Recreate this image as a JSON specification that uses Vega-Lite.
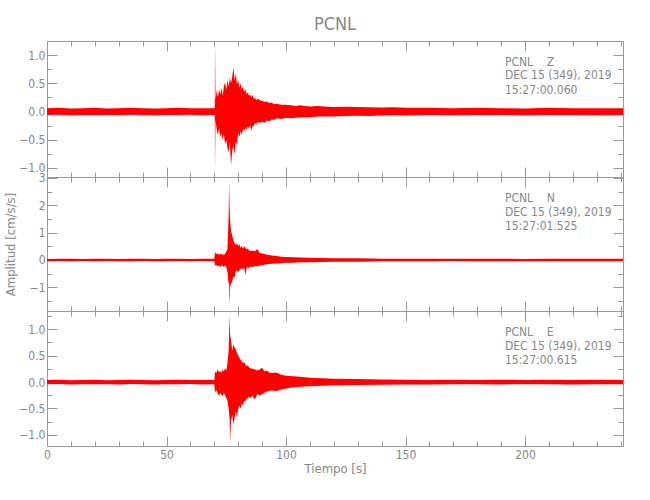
{
  "$schema": "https://vega.github.io/schema/vega-lite/v6.json",
  "padding": {"left": 4, "top": 15, "right": 5, "bottom": 5},
  "spacing": 0,
  "bounds": "flush",
  "background": "white",
  "config": {
    "view": {"stroke": null},
    "font": "Liberation Sans Narrow, DejaVu Sans Condensed, sans-serif",
    "axis": {
      "domainColor": "#999999",
      "tickColor": "#999999",
      "labelColor": "#888888",
      "titleColor": "#888888",
      "labelFont": "Liberation Sans Narrow, DejaVu Sans Condensed, sans-serif",
      "titleFont": "Liberation Sans Narrow, DejaVu Sans Condensed, sans-serif",
      "labelFontSize": 12,
      "titleFontSize": 13,
      "titleFontWeight": "normal",
      "grid": false,
      "labelFlush": false,
      "labelOverlap": false
    }
  },
  "datasets": {
    "Z": [
      {"t":0,"hi":0.06,"lo":-0.06},{"t":5,"hi":0.065,"lo":-0.055},{"t":10,"hi":0.055,"lo":-0.065},{"t":15,"hi":0.06,"lo":-0.06},{"t":20,"hi":0.065,"lo":-0.06},{"t":25,"hi":0.055,"lo":-0.06},{"t":30,"hi":0.06,"lo":-0.065},{"t":35,"hi":0.065,"lo":-0.055},{"t":40,"hi":0.06,"lo":-0.06},{"t":45,"hi":0.055,"lo":-0.065},{"t":50,"hi":0.06,"lo":-0.06},{"t":55,"hi":0.065,"lo":-0.06},{"t":60,"hi":0.06,"lo":-0.055},{"t":65,"hi":0.06,"lo":-0.065},{"t":70,"hi":0.06,"lo":-0.06},
      {"t":70.2,"hi":0.1,"lo":-0.1},{"t":70.3,"hi":1.25,"lo":-1.06},{"t":70.5,"hi":0.2,"lo":-0.15},{"t":71,"hi":0.38,"lo":-0.32},{"t":71.5,"hi":0.25,"lo":-0.42},{"t":72,"hi":0.4,"lo":-0.3},{"t":72.5,"hi":0.3,"lo":-0.45},{"t":73,"hi":0.42,"lo":-0.38},{"t":73.5,"hi":0.28,"lo":-0.5},{"t":74,"hi":0.45,"lo":-0.4},{"t":74.5,"hi":0.52,"lo":-0.58},{"t":75,"hi":0.38,"lo":-0.5},{"t":75.5,"hi":0.56,"lo":-0.65},{"t":76,"hi":0.45,"lo":-0.72},{"t":76.5,"hi":0.6,"lo":-0.55},{"t":77,"hi":0.5,"lo":-0.95},{"t":77.5,"hi":0.62,"lo":-0.7},{"t":78,"hi":0.78,"lo":-0.6},{"t":78.5,"hi":0.55,"lo":-0.76},{"t":79,"hi":0.68,"lo":-0.52},{"t":79.5,"hi":0.48,"lo":-0.6},{"t":80,"hi":0.56,"lo":-0.38},{"t":80.5,"hi":0.42,"lo":-0.45},{"t":81,"hi":0.5,"lo":-0.35},{"t":81.5,"hi":0.4,"lo":-0.42},{"t":82,"hi":0.44,"lo":-0.3},{"t":82.5,"hi":0.35,"lo":-0.36},{"t":83,"hi":0.4,"lo":-0.28},{"t":83.5,"hi":0.3,"lo":-0.33},{"t":84,"hi":0.34,"lo":-0.26},{"t":84.5,"hi":0.28,"lo":-0.3},{"t":85,"hi":0.3,"lo":-0.24},{"t":85.5,"hi":0.25,"lo":-0.34},{"t":86,"hi":0.3,"lo":-0.26},{"t":86.5,"hi":0.22,"lo":-0.25},{"t":87,"hi":0.25,"lo":-0.2},{"t":87.5,"hi":0.2,"lo":-0.24},{"t":88,"hi":0.23,"lo":-0.19},{"t":89,"hi":0.2,"lo":-0.2},{"t":90,"hi":0.19,"lo":-0.18},{"t":91,"hi":0.17,"lo":-0.2},{"t":92,"hi":0.18,"lo":-0.16},{"t":93,"hi":0.15,"lo":-0.17},{"t":94,"hi":0.16,"lo":-0.14},{"t":95,"hi":0.13,"lo":-0.15},{"t":96,"hi":0.14,"lo":-0.12},{"t":98,"hi":0.12,"lo":-0.13},{"t":100,"hi":0.12,"lo":-0.11},{"t":102,"hi":0.11,"lo":-0.12},{"t":104,"hi":0.1,"lo":-0.11},{"t":106,"hi":0.11,"lo":-0.1},{"t":108,"hi":0.1,"lo":-0.1},{"t":110,"hi":0.09,"lo":-0.1},{"t":113,"hi":0.1,"lo":-0.09},{"t":116,"hi":0.09,"lo":-0.09},{"t":120,"hi":0.08,"lo":-0.09},{"t":125,"hi":0.085,"lo":-0.08},{"t":130,"hi":0.08,"lo":-0.075},{"t":135,"hi":0.075,"lo":-0.08},{"t":140,"hi":0.07,"lo":-0.07},{"t":145,"hi":0.075,"lo":-0.065},{"t":150,"hi":0.065,"lo":-0.07},{"t":160,"hi":0.065,"lo":-0.06},{"t":170,"hi":0.06,"lo":-0.065},{"t":180,"hi":0.065,"lo":-0.06},{"t":190,"hi":0.06,"lo":-0.06},{"t":200,"hi":0.055,"lo":-0.065},{"t":210,"hi":0.065,"lo":-0.06},{"t":220,"hi":0.06,"lo":-0.06},{"t":230,"hi":0.06,"lo":-0.065},{"t":241,"hi":0.06,"lo":-0.06}
    ],
    "N": [
      {"t":0,"hi":0.04,"lo":-0.045},{"t":5,"hi":0.05,"lo":-0.04},{"t":10,"hi":0.045,"lo":-0.05},{"t":15,"hi":0.04,"lo":-0.04},{"t":20,"hi":0.05,"lo":-0.045},{"t":25,"hi":0.045,"lo":-0.04},{"t":30,"hi":0.04,"lo":-0.05},{"t":35,"hi":0.05,"lo":-0.045},{"t":40,"hi":0.045,"lo":-0.04},{"t":45,"hi":0.04,"lo":-0.045},{"t":50,"hi":0.05,"lo":-0.05},{"t":55,"hi":0.045,"lo":-0.04},{"t":60,"hi":0.04,"lo":-0.045},{"t":65,"hi":0.05,"lo":-0.04},{"t":70,"hi":0.045,"lo":-0.045},
      {"t":70.3,"hi":0.28,"lo":-0.2},{"t":70.8,"hi":0.22,"lo":-0.18},{"t":71.5,"hi":0.25,"lo":-0.24},{"t":72,"hi":0.18,"lo":-0.2},{"t":72.5,"hi":0.24,"lo":-0.27},{"t":73,"hi":0.2,"lo":-0.18},{"t":73.5,"hi":0.22,"lo":-0.22},{"t":74,"hi":0.17,"lo":-0.26},{"t":74.5,"hi":0.24,"lo":-0.2},{"t":75,"hi":0.3,"lo":-0.25},{"t":75.5,"hi":0.4,"lo":-0.45},{"t":76,"hi":1.6,"lo":-0.9},{"t":76.2,"hi":2.92,"lo":-0.8},{"t":76.4,"hi":1.9,"lo":-1.72},{"t":76.6,"hi":1.5,"lo":-1.0},{"t":77,"hi":1.05,"lo":-0.87},{"t":77.5,"hi":0.9,"lo":-0.78},{"t":78,"hi":0.7,"lo":-0.6},{"t":78.5,"hi":0.62,"lo":-0.65},{"t":79,"hi":0.55,"lo":-0.4},{"t":79.5,"hi":0.62,"lo":-0.38},{"t":80,"hi":0.5,"lo":-0.45},{"t":80.5,"hi":0.58,"lo":-0.36},{"t":81,"hi":0.45,"lo":-0.32},{"t":81.5,"hi":0.5,"lo":-0.3},{"t":82,"hi":0.42,"lo":-0.35},{"t":82.5,"hi":0.5,"lo":-0.28},{"t":83,"hi":0.46,"lo":-0.57},{"t":83.5,"hi":0.38,"lo":-0.3},{"t":84,"hi":0.42,"lo":-0.26},{"t":84.5,"hi":0.36,"lo":-0.3},{"t":85,"hi":0.33,"lo":-0.24},{"t":86,"hi":0.35,"lo":-0.26},{"t":87,"hi":0.32,"lo":-0.22},{"t":88,"hi":0.4,"lo":-0.24},{"t":89,"hi":0.26,"lo":-0.2},{"t":90,"hi":0.24,"lo":-0.19},{"t":91,"hi":0.22,"lo":-0.17},{"t":92,"hi":0.19,"lo":-0.16},{"t":93,"hi":0.18,"lo":-0.15},{"t":94,"hi":0.16,"lo":-0.14},{"t":96,"hi":0.15,"lo":-0.13},{"t":98,"hi":0.12,"lo":-0.12},{"t":100,"hi":0.11,"lo":-0.1},{"t":103,"hi":0.1,"lo":-0.1},{"t":106,"hi":0.09,"lo":-0.08},{"t":110,"hi":0.08,"lo":-0.08},{"t":115,"hi":0.07,"lo":-0.07},{"t":120,"hi":0.065,"lo":-0.06},{"t":130,"hi":0.06,"lo":-0.06},
      {"t":140,"hi":0.05,"lo":-0.05},{"t":150,"hi":0.045,"lo":-0.05},{"t":160,"hi":0.05,"lo":-0.045},{"t":170,"hi":0.045,"lo":-0.04},{"t":180,"hi":0.05,"lo":-0.05},{"t":190,"hi":0.045,"lo":-0.045},{"t":200,"hi":0.04,"lo":-0.05},{"t":210,"hi":0.05,"lo":-0.045},{"t":220,"hi":0.045,"lo":-0.05},{"t":230,"hi":0.05,"lo":-0.045},{"t":241,"hi":0.045,"lo":-0.045}
    ],
    "E": [
      {"t":0,"hi":0.04,"lo":-0.04},{"t":5,"hi":0.045,"lo":-0.035},{"t":10,"hi":0.035,"lo":-0.045},{"t":15,"hi":0.04,"lo":-0.04},{"t":20,"hi":0.045,"lo":-0.04},{"t":25,"hi":0.035,"lo":-0.04},{"t":30,"hi":0.04,"lo":-0.045},{"t":35,"hi":0.045,"lo":-0.035},{"t":40,"hi":0.04,"lo":-0.04},{"t":45,"hi":0.035,"lo":-0.045},{"t":50,"hi":0.04,"lo":-0.04},{"t":55,"hi":0.045,"lo":-0.04},{"t":60,"hi":0.04,"lo":-0.035},{"t":65,"hi":0.04,"lo":-0.045},{"t":70,"hi":0.04,"lo":-0.04},
      {"t":70.3,"hi":0.2,"lo":-0.2},{"t":70.8,"hi":0.17,"lo":-0.15},{"t":71.5,"hi":0.24,"lo":-0.22},{"t":72,"hi":0.18,"lo":-0.26},{"t":72.5,"hi":0.22,"lo":-0.2},{"t":73,"hi":0.16,"lo":-0.24},{"t":73.5,"hi":0.24,"lo":-0.27},{"t":74,"hi":0.2,"lo":-0.2},{"t":74.5,"hi":0.26,"lo":-0.25},{"t":75,"hi":0.22,"lo":-0.3},{"t":75.5,"hi":0.35,"lo":-0.35},{"t":76,"hi":0.6,"lo":-0.5},{"t":76.4,"hi":1.28,"lo":-0.7},{"t":76.6,"hi":0.9,"lo":-1.12},{"t":77,"hi":0.78,"lo":-0.74},{"t":77.5,"hi":0.6,"lo":-0.62},{"t":78,"hi":0.71,"lo":-0.8},{"t":78.5,"hi":0.65,"lo":-0.68},{"t":79,"hi":0.62,"lo":-0.55},{"t":79.5,"hi":0.55,"lo":-0.67},{"t":80,"hi":0.5,"lo":-0.5},{"t":80.5,"hi":0.46,"lo":-0.45},{"t":81,"hi":0.42,"lo":-0.5},{"t":81.5,"hi":0.4,"lo":-0.4},{"t":82,"hi":0.36,"lo":-0.45},{"t":82.5,"hi":0.38,"lo":-0.36},{"t":83,"hi":0.33,"lo":-0.36},{"t":83.5,"hi":0.3,"lo":-0.32},{"t":84,"hi":0.32,"lo":-0.3},{"t":84.5,"hi":0.28,"lo":-0.28},{"t":85,"hi":0.26,"lo":-0.3},{"t":86,"hi":0.25,"lo":-0.26},{"t":87,"hi":0.24,"lo":-0.33},{"t":88,"hi":0.22,"lo":-0.22},{"t":89,"hi":0.24,"lo":-0.25},{"t":90,"hi":0.27,"lo":-0.23},{"t":91,"hi":0.2,"lo":-0.2},{"t":92,"hi":0.22,"lo":-0.18},{"t":93,"hi":0.18,"lo":-0.17},{"t":94,"hi":0.17,"lo":-0.16},{"t":96,"hi":0.18,"lo":-0.17},{"t":98,"hi":0.14,"lo":-0.14},{"t":100,"hi":0.12,"lo":-0.12},{"t":103,"hi":0.11,"lo":-0.1},{"t":106,"hi":0.1,"lo":-0.09},{"t":110,"hi":0.08,"lo":-0.08},{"t":115,"hi":0.07,"lo":-0.07},{"t":120,"hi":0.065,"lo":-0.06},{"t":130,"hi":0.06,"lo":-0.055},{"t":140,"hi":0.05,"lo":-0.05},
      {"t":150,"hi":0.045,"lo":-0.045},{"t":160,"hi":0.04,"lo":-0.045},{"t":170,"hi":0.045,"lo":-0.04},{"t":180,"hi":0.04,"lo":-0.04},{"t":190,"hi":0.045,"lo":-0.045},{"t":200,"hi":0.04,"lo":-0.04},{"t":210,"hi":0.045,"lo":-0.04},{"t":220,"hi":0.04,"lo":-0.045},{"t":230,"hi":0.045,"lo":-0.04},{"t":241,"hi":0.04,"lo":-0.04}
    ],
    "ann": [
      {"p":"Z","t":191.6,"v":0.876,"s":"PCNL\u00a0\u00a0\u00a0\u00a0Z"},
      {"p":"Z","t":191.6,"v":0.64,"s":"DEC 15 (349), 2019"},
      {"p":"Z","t":191.6,"v":0.38,"s":"15:27:00.060"},
      {"p":"N","t":191.6,"v":2.27,"s":"PCNL\u00a0\u00a0\u00a0\u00a0N"},
      {"p":"N","t":191.6,"v":1.755,"s":"DEC 15 (349), 2019"},
      {"p":"N","t":191.6,"v":1.24,"s":"15:27:01.525"},
      {"p":"E","t":191.6,"v":0.946,"s":"PCNL\u00a0\u00a0\u00a0\u00a0E"},
      {"p":"E","t":191.6,"v":0.681,"s":"DEC 15 (349), 2019"},
      {"p":"E","t":191.6,"v":0.416,"s":"15:27:00.615"}
    ]
  },
  "vconcat": [
    {
      "width": 576, "height": 136,
      "title": {"text": "PCNL", "fontSize": 18, "fontWeight": "normal", "color": "#888888", "anchor": "middle", "frame": "group", "offset": 7, "font": "Liberation Sans Narrow, DejaVu Sans Condensed, sans-serif"},
      "layer": [
        {"data": {"name": "Z"}, "mark": {"type": "area", "color": "#ff0000", "clip": true},
         "encoding": {
           "x": {"field": "t", "type": "quantitative", "scale": {"domain": [0, 241], "nice": false, "zero": false}, "axis": {"orient": "bottom", "values": [0, 50, 100, 150, 200], "tickSize": -10, "labels": false, "title": null}},
           "y": {"field": "hi", "type": "quantitative", "scale": {"domain": [-1.16, 1.25], "nice": false, "zero": false}, "axis": {"orient": "left", "values": [-1, -0.5, 0, 0.5, 1], "format": ".1f", "tickSize": -10, "labelPadding": 12, "title": null}},
           "y2": {"field": "lo"}}},
        {"data": {"name": "Z"}, "mark": {"type": "point", "opacity": 0, "size": 0, "strokeWidth": 0},
         "encoding": {
           "x": {"field": "t", "type": "quantitative", "scale": {"domain": [0, 241], "nice": false, "zero": false}, "axis": {"orient": "bottom", "values": [10,20,30,40,60,70,80,90,110,120,130,140,160,170,180,190,210,220,230,240], "tickSize": -5, "labels": false, "domain": false, "title": null}},
           "y": {"field": "hi", "type": "quantitative", "scale": {"domain": [-1.16, 1.25], "nice": false, "zero": false}, "axis": {"orient": "left", "values": [-0.75, -0.25, 0.25, 0.75], "tickSize": -5, "labels": false, "domain": false, "title": null}}}},
        {"data": {"name": "Z"}, "mark": {"type": "point", "opacity": 0, "size": 0, "strokeWidth": 0},
         "encoding": {
           "x": {"field": "t", "type": "quantitative", "scale": {"domain": [0, 241], "nice": false, "zero": false}, "axis": {"orient": "top", "values": [0, 50, 100, 150, 200], "tickSize": -10, "labels": false, "title": null}},
           "y": {"field": "hi", "type": "quantitative", "scale": {"domain": [-1.16, 1.25], "nice": false, "zero": false}, "axis": {"orient": "right", "values": [-1, -0.5, 0, 0.5, 1], "tickSize": -10, "labels": false, "title": null}}}},
        {"data": {"name": "Z"}, "mark": {"type": "point", "opacity": 0, "size": 0, "strokeWidth": 0},
         "encoding": {
           "x": {"field": "t", "type": "quantitative", "scale": {"domain": [0, 241], "nice": false, "zero": false}, "axis": {"orient": "top", "values": [10,20,30,40,60,70,80,90,110,120,130,140,160,170,180,190,210,220,230,240], "tickSize": -5, "labels": false, "domain": false, "title": null}},
           "y": {"field": "hi", "type": "quantitative", "scale": {"domain": [-1.16, 1.25], "nice": false, "zero": false}, "axis": {"orient": "right", "values": [-0.75, -0.25, 0.25, 0.75], "tickSize": -5, "labels": false, "domain": false, "title": null}}}},
        {"data": {"name": "ann"}, "transform": [{"filter": "datum.p == 'Z'"}],
         "mark": {"type": "text", "align": "left", "baseline": "middle", "fontSize": 12, "color": "#888888", "font": "Liberation Sans Narrow, DejaVu Sans Condensed, sans-serif"},
         "encoding": {
           "x": {"field": "t", "type": "quantitative", "scale": {"domain": [0, 241], "nice": false, "zero": false}, "axis": null},
           "y": {"field": "v", "type": "quantitative", "scale": {"domain": [-1.16, 1.25], "nice": false, "zero": false}, "axis": null},
           "text": {"field": "s"}}}
      ],
      "resolve": {"axis": {"x": "independent", "y": "independent"}}
    },
    {
      "width": 576, "height": 134,
      "layer": [
        {"data": {"name": "N"}, "mark": {"type": "area", "color": "#ff0000", "clip": true},
         "encoding": {
           "x": {"field": "t", "type": "quantitative", "scale": {"domain": [0, 241], "nice": false, "zero": false}, "axis": {"orient": "bottom", "values": [0, 50, 100, 150, 200], "tickSize": -10, "labels": false, "title": null}},
           "y": {"field": "hi", "type": "quantitative", "scale": {"domain": [-1.865, 3.035], "nice": false, "zero": false}, "axis": {"orient": "left", "values": [-1, 0, 1, 2, 3], "format": "d", "tickSize": -10, "labelPadding": 12, "title": "Amplitud [cm/s/s]", "titlePadding": 12}},
           "y2": {"field": "lo"}}},
        {"data": {"name": "N"}, "mark": {"type": "point", "opacity": 0, "size": 0, "strokeWidth": 0},
         "encoding": {
           "x": {"field": "t", "type": "quantitative", "scale": {"domain": [0, 241], "nice": false, "zero": false}, "axis": {"orient": "bottom", "values": [10,20,30,40,60,70,80,90,110,120,130,140,160,170,180,190,210,220,230,240], "tickSize": -5, "labels": false, "domain": false, "title": null}},
           "y": {"field": "hi", "type": "quantitative", "scale": {"domain": [-1.865, 3.035], "nice": false, "zero": false}, "axis": {"orient": "left", "values": [-1.5, -0.5, 0.5, 1.5, 2.5], "tickSize": -5, "labels": false, "domain": false, "title": null}}}},
        {"data": {"name": "N"}, "mark": {"type": "point", "opacity": 0, "size": 0, "strokeWidth": 0},
         "encoding": {
           "x": {"field": "t", "type": "quantitative", "scale": {"domain": [0, 241], "nice": false, "zero": false}, "axis": {"orient": "top", "values": [0, 50, 100, 150, 200], "tickSize": -10, "labels": false, "title": null}},
           "y": {"field": "hi", "type": "quantitative", "scale": {"domain": [-1.865, 3.035], "nice": false, "zero": false}, "axis": {"orient": "right", "values": [-1, 0, 1, 2, 3], "tickSize": -10, "labels": false, "title": null}}}},
        {"data": {"name": "N"}, "mark": {"type": "point", "opacity": 0, "size": 0, "strokeWidth": 0},
         "encoding": {
           "x": {"field": "t", "type": "quantitative", "scale": {"domain": [0, 241], "nice": false, "zero": false}, "axis": {"orient": "top", "values": [10,20,30,40,60,70,80,90,110,120,130,140,160,170,180,190,210,220,230,240], "tickSize": -5, "labels": false, "domain": false, "title": null}},
           "y": {"field": "hi", "type": "quantitative", "scale": {"domain": [-1.865, 3.035], "nice": false, "zero": false}, "axis": {"orient": "right", "values": [-1.5, -0.5, 0.5, 1.5, 2.5], "tickSize": -5, "labels": false, "domain": false, "title": null}}}},
        {"data": {"name": "ann"}, "transform": [{"filter": "datum.p == 'N'"}],
         "mark": {"type": "text", "align": "left", "baseline": "middle", "fontSize": 12, "color": "#888888", "font": "Liberation Sans Narrow, DejaVu Sans Condensed, sans-serif"},
         "encoding": {
           "x": {"field": "t", "type": "quantitative", "scale": {"domain": [0, 241], "nice": false, "zero": false}, "axis": null},
           "y": {"field": "v", "type": "quantitative", "scale": {"domain": [-1.865, 3.035], "nice": false, "zero": false}, "axis": null},
           "text": {"field": "s"}}}
      ],
      "resolve": {"axis": {"x": "independent", "y": "independent"}}
    },
    {
      "width": 576, "height": 135,
      "layer": [
        {"data": {"name": "E"}, "mark": {"type": "area", "color": "#ff0000", "clip": true},
         "encoding": {
           "x": {"field": "t", "type": "quantitative", "scale": {"domain": [0, 241], "nice": false, "zero": false}, "axis": {"orient": "bottom", "values": [0, 50, 100, 150, 200], "format": "d", "tickSize": -10, "labelPadding": 13, "title": "Tiempo [s]", "titlePadding": 2}},
           "y": {"field": "hi", "type": "quantitative", "scale": {"domain": [-1.21, 1.345], "nice": false, "zero": false}, "axis": {"orient": "left", "values": [-1, -0.5, 0, 0.5, 1], "format": ".1f", "tickSize": -10, "labelPadding": 12, "title": null}},
           "y2": {"field": "lo"}}},
        {"data": {"name": "E"}, "mark": {"type": "point", "opacity": 0, "size": 0, "strokeWidth": 0},
         "encoding": {
           "x": {"field": "t", "type": "quantitative", "scale": {"domain": [0, 241], "nice": false, "zero": false}, "axis": {"orient": "bottom", "values": [10,20,30,40,60,70,80,90,110,120,130,140,160,170,180,190,210,220,230,240], "tickSize": -5, "labels": false, "domain": false, "title": null}},
           "y": {"field": "hi", "type": "quantitative", "scale": {"domain": [-1.21, 1.345], "nice": false, "zero": false}, "axis": {"orient": "left", "values": [-0.75, -0.25, 0.25, 0.75, 1.25], "tickSize": -5, "labels": false, "domain": false, "title": null}}}},
        {"data": {"name": "E"}, "mark": {"type": "point", "opacity": 0, "size": 0, "strokeWidth": 0},
         "encoding": {
           "x": {"field": "t", "type": "quantitative", "scale": {"domain": [0, 241], "nice": false, "zero": false}, "axis": {"orient": "top", "values": [0, 50, 100, 150, 200], "tickSize": -10, "labels": false, "title": null}},
           "y": {"field": "hi", "type": "quantitative", "scale": {"domain": [-1.21, 1.345], "nice": false, "zero": false}, "axis": {"orient": "right", "values": [-1, -0.5, 0, 0.5, 1], "tickSize": -10, "labels": false, "title": null}}}},
        {"data": {"name": "E"}, "mark": {"type": "point", "opacity": 0, "size": 0, "strokeWidth": 0},
         "encoding": {
           "x": {"field": "t", "type": "quantitative", "scale": {"domain": [0, 241], "nice": false, "zero": false}, "axis": {"orient": "top", "values": [10,20,30,40,60,70,80,90,110,120,130,140,160,170,180,190,210,220,230,240], "tickSize": -5, "labels": false, "domain": false, "title": null}},
           "y": {"field": "hi", "type": "quantitative", "scale": {"domain": [-1.21, 1.345], "nice": false, "zero": false}, "axis": {"orient": "right", "values": [-0.75, -0.25, 0.25, 0.75, 1.25], "tickSize": -5, "labels": false, "domain": false, "title": null}}}},
        {"data": {"name": "ann"}, "transform": [{"filter": "datum.p == 'E'"}],
         "mark": {"type": "text", "align": "left", "baseline": "middle", "fontSize": 12, "color": "#888888", "font": "Liberation Sans Narrow, DejaVu Sans Condensed, sans-serif"},
         "encoding": {
           "x": {"field": "t", "type": "quantitative", "scale": {"domain": [0, 241], "nice": false, "zero": false}, "axis": null},
           "y": {"field": "v", "type": "quantitative", "scale": {"domain": [-1.21, 1.345], "nice": false, "zero": false}, "axis": null},
           "text": {"field": "s"}}}
      ],
      "resolve": {"axis": {"x": "independent", "y": "independent"}}
    }
  ]
}
